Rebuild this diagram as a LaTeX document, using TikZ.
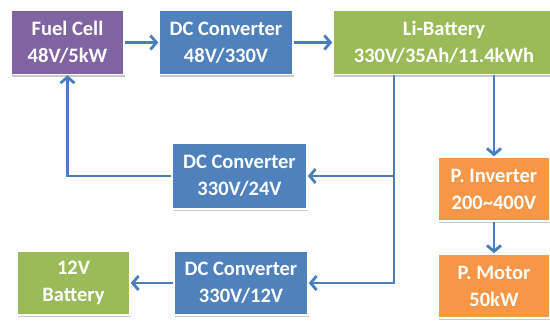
\documentclass[tikz,border=0pt]{standalone}
\usepackage{fontspec}
\setmainfont{Carlito}
\usepackage{xcolor}
\usetikzlibrary{arrows.meta,positioning,calc,shadows}
\definecolor{fcpurple}{HTML}{8064A2}
\definecolor{dcblue}{HTML}{4F81BD}
\definecolor{batgreen}{HTML}{9BBB59}
\definecolor{drvorange}{HTML}{F79646}
\definecolor{wireblue}{HTML}{4A7EBB}

\begin{document}
\begin{tikzpicture}[x=1pt,y=-1pt,
	block/.style={draw=white, line width=1.5pt, text=white, align=center, inner sep=0pt,
		minimum height=64pt, font=\fontsize{20.5}{27}\selectfont\bfseries,
		drop shadow={shadow xshift=0.6pt, shadow yshift=-2pt, opacity=0.3, fill=black!70}},
	wire/.style={draw=wireblue, line width=2.8pt},
	feed/.style={wire, -{Straight Barb[length=6pt,width=14pt]}}]
	\useasboundingbox (0,0) rectangle (550,324);
	\clip (0,0) rectangle (550,324);
	
	% top row
	\node[block, fill=fcpurple, minimum width=113pt] (FC) at (67.5,42.5) {Fuel Cell\\48V/5kW};
	\node[block, fill=dcblue, minimum width=134pt] (DC1) at (226,42.5) {DC Converter\\48V/330V};
	\node[block, fill=batgreen, minimum width=222pt] (LB) at (444,42.5) {Li-Battery\\330V/35Ah/11.4kWh};
	
	% converters from the battery
	\node[block, fill=dcblue, minimum width=135pt, minimum height=66pt] (DC2) at (239.5,176) {DC Converter\\330V/24V};
	\node[block, fill=dcblue, minimum width=134pt] (DC3) at (241,283) {DC Converter\\330V/12V};
	\node[block, fill=batgreen, minimum width=113pt] (B12) at (73.5,283) {12V\\Battery};
	
	% drive
	\node[block, fill=drvorange, minimum width=112pt] (INV) at (494,189) {P. Inverter\\200\textasciitilde400V};
	\node[block, fill=drvorange, minimum width=112pt] (MOT) at (494,286) {P. Motor\\50kW};
	
	\draw[feed] (FC) -- (DC1);
	\draw[feed] (DC1) -- (LB);
	
	% bus down from the battery
	\coordinate (busx) at (394,0);
	\coordinate (bus) at (LB.south -| busx);
	\draw[feed] (bus) |- (DC3.east);
	\draw[feed] (bus |- DC2.east) -- (DC2.east);
	\draw[feed] (DC2.west) -| (FC.south);
	\draw[feed] (DC3.west) -- (B12.east);
	
	\draw[feed] (LB.south -| INV.north) -- (INV.north);
	\draw[feed] (INV) -- (MOT);
\end{tikzpicture}
\end{document}
